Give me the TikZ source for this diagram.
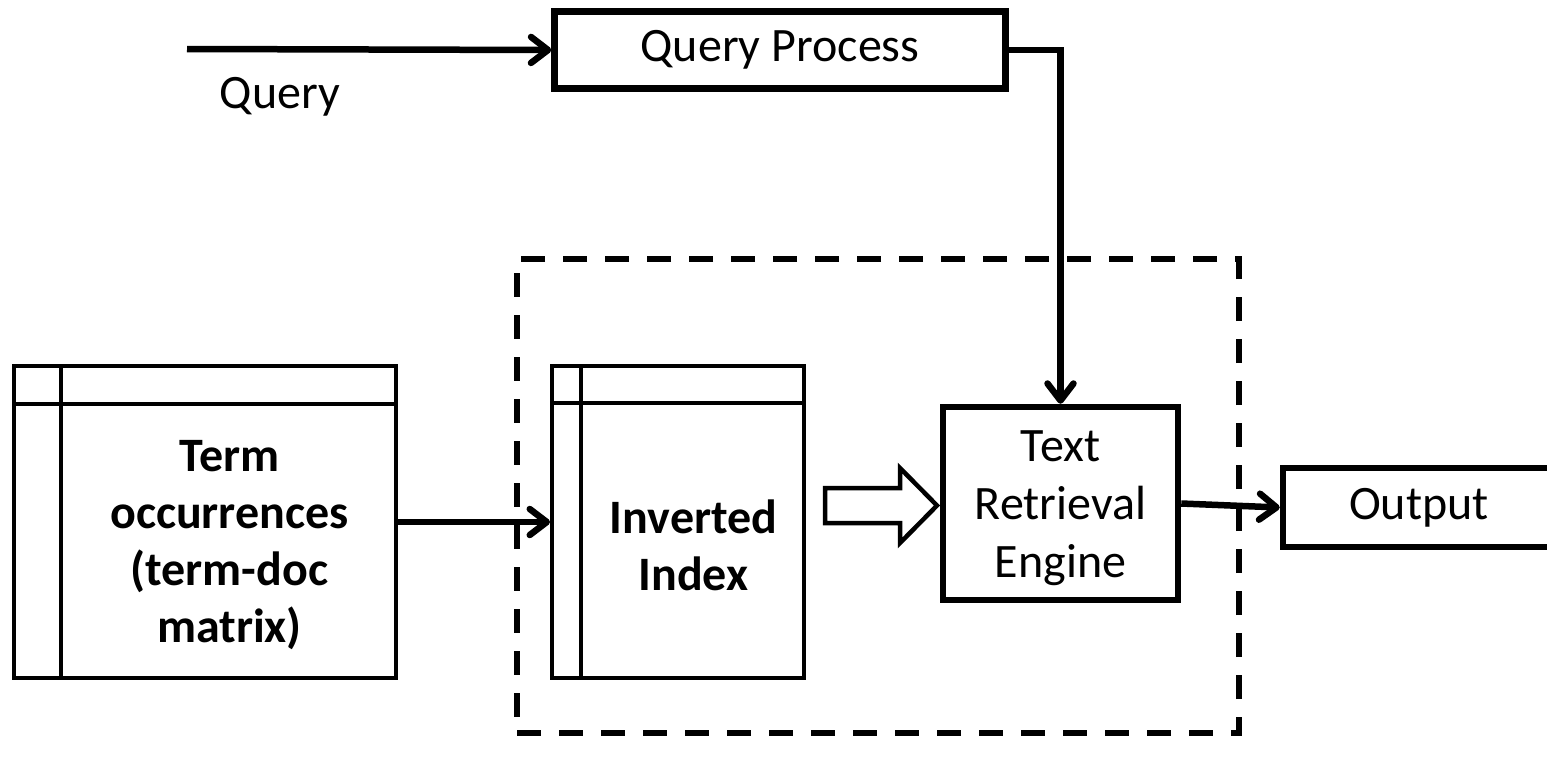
\documentclass[tikz,border=0pt]{standalone}
\usepackage{fontspec}
\setmainfont{Carlito}
\usetikzlibrary{arrows.meta}
\begin{document}
\begin{tikzpicture}[x=1pt,y=-1pt,
  box/.style={draw, line width=6.5pt, inner sep=0pt, align=center,
    font=\fontsize{48}{58}\selectfont},
  tbl/.style={draw, line width=4pt, inner sep=0pt},
  lbl/.style={inner sep=0pt, align=center, font=\fontsize{48}{58}\selectfont},
  blbl/.style={inner sep=0pt, align=center, font=\fontsize{48}{57}\selectfont\bfseries},
  arr/.style={line width=6.5pt, -{Straight Barb[length=17pt,width=26pt,round]}},
  frame/.style={draw, line width=6pt, dash pattern=on 24pt off 18pt, inner sep=0pt},
  hollow/.style={draw, line width=4.5pt, line join=miter}
]
\useasboundingbox (0,0) rectangle (1547,763);

% dashed frame
\node[frame, minimum width=722pt, minimum height=474pt] (fr) at (878,496) {};

% Query process
\node[box, minimum width=451pt, minimum height=77pt] (qp) at (780,50) {Query Process};
\coordinate (qs) at (187,49);
\draw[arr] (qs) -- (qp.west);
\node[lbl] (ql) at (280,97) {Query};

% Text retrieval engine
\node[box, minimum width=235pt, minimum height=193pt] (tre) at (1060.5,503.5) {};
\node[lbl] (tret) at (1060.5,508) {Text\\Retrieval\\Engine};
\draw[arr] (qp.east) -| (tre.north);

% Output
\node[box, minimum width=272pt, minimum height=79pt] (out) at (1419,507.5) {Output};
\draw[arr] (tre.east) -- (out.west);

% Term occurrences table
\node[tbl, minimum width=382pt, minimum height=312pt] (tm) at (205,522) {};
\draw[tbl] ([xshift=49pt]tm.north west) -- ([xshift=49pt]tm.south west);
\draw[tbl] ([yshift=-40pt]tm.north west) -- ([yshift=-40pt]tm.north east);
\node[blbl] (tmt) at (229.5,545) {Term\\occurrences\\(term-doc\\matrix)};

% Inverted index table
\node[tbl, minimum width=252pt, minimum height=312pt] (inv) at (678,522) {};
\draw[tbl] ([xshift=31pt]inv.north west) -- ([xshift=31pt]inv.south west);
\draw[tbl] ([yshift=-39pt]inv.north west) -- ([yshift=-39pt]inv.north east);
\node[blbl] (invt) at (693.5,545) {Inverted\\Index};

\draw[arr] (tm.east) -- (inv.west);

% hollow arrow
\draw[hollow] (825,488) -- (900,488) -- (900,468) -- (937,505.5) -- (900,543) -- (900,523) -- (825,523) -- cycle;
\end{tikzpicture}
\end{document}
